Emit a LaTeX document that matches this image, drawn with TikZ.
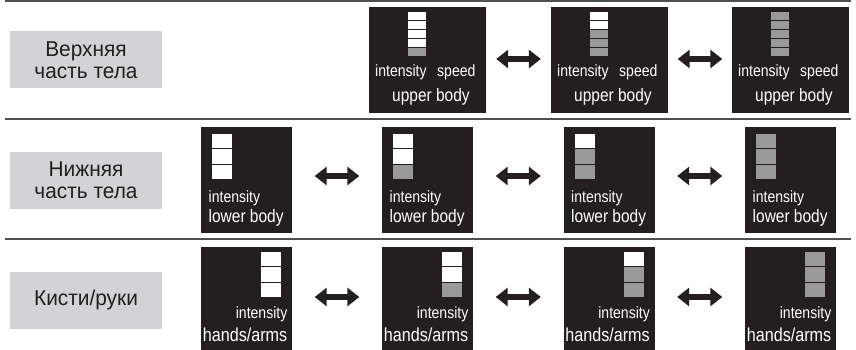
\documentclass[tikz,border=0pt]{standalone}
\usepackage{fontspec}
\setmainfont{Liberation Sans}[FakeStretch=0.86]
\newfontfamily\lblfamily{Liberation Sans}[FakeStretch=0.97]
\usetikzlibrary{arrows.meta}
\definecolor{boxdark}{HTML}{231F20}
\definecolor{bargray}{HTML}{999999}
\definecolor{lblgray}{HTML}{D1D3D4}
\definecolor{rulegray}{HTML}{505050}
\newcommand{\segbars}[6]{% x, ytop, width, pitch, seg height, list
  \foreach \c [count=\i from 0] in {#6} {
    \fill[\c] (#1,#2+\i*#4) rectangle ++(#3,#5);
  }}
\begin{document}
\begin{tikzpicture}[x=1pt,y=-1pt,
  dbox/.style={fill=boxdark, inner sep=0pt},
  wbox/.style={dbox, minimum width=117pt, minimum height=106pt},
  nbox/.style={dbox, minimum width=91pt, minimum height=106pt},
  hbox/.style={dbox, minimum width=91pt, minimum height=103pt},
  lbl/.style={fill=lblgray, minimum width=152pt, minimum height=57pt, inner sep=0pt,
    align=center, text=boxdark, font=\lblfamily\fontsize{21.5}{21.7}\selectfont},
  smalltxt/.style={text=white, inner sep=0pt, font=\fontsize{16.3}{18}\selectfont},
  bigtxt/.style={text=white, inner sep=0pt, font=\fontsize{18}{20}\selectfont},
  handtxt/.style={text=white, inner sep=0pt, font=\fontsize{18.8}{20}\selectfont},
  dbl/.style={draw=boxdark, line width=6pt,
    {Triangle[width=18pt,length=12pt]}-{Triangle[width=18pt,length=12pt]}},
  rule/.style={draw=rulegray, line width=2pt}]
\useasboundingbox (0,0) rectangle (856,350);

% rules
\coordinate (ra1) at (5,1); \coordinate (rb1) at (851,1);
\coordinate (ra2) at (5,119.5); \coordinate (rb2) at (851,119.5);
\coordinate (ra3) at (5,238.5); \coordinate (rb3) at (851,238.5);
\draw[rule] (ra1) -- (rb1);
\draw[rule] (ra2) -- (rb2);
\draw[rule] (ra3) -- (rb3);

% labels
\node[lbl] (l1) at (86,60) {Верхняя\\часть тела};
\node[lbl] (l2) at (86,180) {Нижняя\\часть тела};
\node[lbl] (l3) at (86,300) {Кисти/руки};

% ---------- row 1 ----------
\node[wbox] (a1) at (427.5,60) {};
\node[wbox] (a2) at (609.5,60) {};
\node[wbox] (a3) at (790.5,60) {};
\segbars{408}{12}{18}{9}{8}{white,white,white,white,bargray}
\segbars{590}{12}{18}{9}{8}{white,white,bargray,bargray,bargray}
\segbars{771}{12}{18}{9}{8}{bargray,bargray,bargray,bargray,bargray}
\foreach \n/\x in {a1/369,a2/551,a3/732}{
  \node[smalltxt, anchor=base west] (\n i) at (\x+6,77) {intensity};
  \node[smalltxt, anchor=base west] (\n s) at (\x+68,77) {speed};
  \node[bigtxt, anchor=base west] (\n u) at (\x+23,102) {upper body};
}
\draw[dbl, shorten <=10pt, shorten >=10pt] ([yshift=1pt]a1.east) -- ([yshift=1pt]a2.west);
\draw[dbl, shorten <=9.5pt, shorten >=9.5pt] ([yshift=1pt]a2.east) -- ([yshift=1pt]a3.west);

% ---------- row 2 ----------
\node[nbox] (b1) at (246.5,180) {};
\node[nbox] (b2) at (427.5,180) {};
\node[nbox] (b3) at (609,180) {};
\node[nbox] (b4) at (790.5,180) {};
\segbars{212}{134}{20}{15.4}{14.4}{white,white,white}
\segbars{393}{134}{20}{15.4}{14.4}{white,white,bargray}
\segbars{574.5}{134}{20}{15.4}{14.4}{white,bargray,bargray}
\segbars{756}{134}{20}{15.4}{14.4}{bargray,bargray,bargray}
\foreach \n/\x in {b1/201,b2/382,b3/563.5,b4/745}{
  \node[smalltxt, anchor=base west] (\n i) at (\x+7.5,202) {intensity};
  \node[bigtxt, anchor=base west] (\n l) at (\x+7.5,222) {lower body};
}
\draw[dbl, shorten <=22.5pt, shorten >=22.5pt] ([yshift=4pt]b1.east) -- ([yshift=4pt]b2.west);
\draw[dbl, shorten <=22.5pt, shorten >=22.5pt] ([yshift=4pt]b2.east) -- ([yshift=4pt]b3.west);
\draw[dbl, shorten <=22.5pt, shorten >=22.5pt] ([yshift=4pt]b3.east) -- ([yshift=4pt]b4.west);

% ---------- row 3 ----------
\node[hbox] (c1) at (246.5,298.5) {};
\node[hbox] (c2) at (427.5,298.5) {};
\node[hbox] (c3) at (609,298.5) {};
\node[hbox] (c4) at (790.5,298.5) {};
\segbars{261}{252}{20}{15.4}{14.4}{white,white,white}
\segbars{442}{252}{20}{15.4}{14.4}{white,white,bargray}
\segbars{623.5}{252}{20}{15.4}{14.4}{white,bargray,bargray}
\segbars{805}{252}{20}{15.4}{14.4}{bargray,bargray,bargray}
\foreach \n/\x in {c1/292,c2/473,c3/654.5,c4/836}{
  \node[smalltxt, anchor=base east] (\n i) at (\x-4.5,318) {intensity};
  \node[handtxt, anchor=base east] (\n h) at (\x-4.5,341) {hands/arms};
}
\draw[dbl, shorten <=22.5pt, shorten >=22.5pt] ([yshift=1.5pt]c1.east) -- ([yshift=1.5pt]c2.west);
\draw[dbl, shorten <=22.5pt, shorten >=22.5pt] ([yshift=1.5pt]c2.east) -- ([yshift=1.5pt]c3.west);
\draw[dbl, shorten <=22.5pt, shorten >=22.5pt] ([yshift=1.5pt]c3.east) -- ([yshift=1.5pt]c4.west);
\end{tikzpicture}
\end{document}
